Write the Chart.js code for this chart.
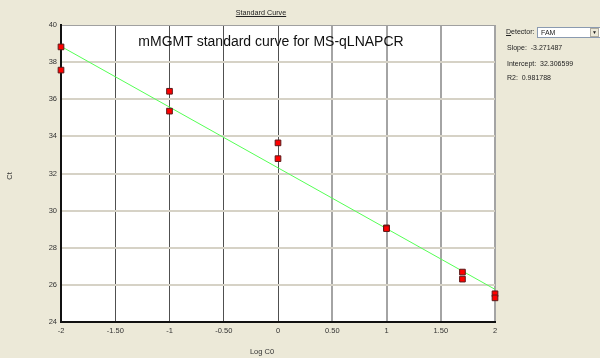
<!DOCTYPE html>
<html>
<head>
<meta charset="utf-8">
<script src="https://cdn.jsdelivr.net/npm/chart.js@4/dist/chart.umd.min.js"></script>
<style>
  html,body{margin:0;padding:0;background:#ECE9D8;}
  #wrap{position:relative;width:600px;height:358px;background:#ECE9D8;overflow:hidden;
        font-family:"Liberation Sans",Arial,sans-serif;font-size:7px;color:#222;}
  #chart{position:absolute;left:0;top:0;}
  .lbl{position:absolute;white-space:nowrap;line-height:9px;}
  #head{left:0;width:522px;top:8px;text-align:center;text-decoration:underline;font-size:7.2px;}
  #det{left:506px;top:27px;}
  #sel{position:absolute;left:537px;top:27px;width:62px;height:9px;background:#fff;
       border:1px solid #8a9ab0;box-sizing:content-box;}
  #sel span{position:absolute;left:3px;top:0px;line-height:9px;}
  #btn{position:absolute;right:1px;top:0px;width:9px;height:9px;background:#ECE9D8;
       border:1px solid #b0aca0;box-sizing:border-box;font-size:5px;line-height:7px;text-align:center;}
</style>
</head>
<body>
<div id="wrap">
  <canvas id="chart" width="600" height="358"></canvas>
  <div class="lbl" id="head">Standard Curve</div>
  <div class="lbl" id="det"><u>D</u>etector:</div>
  <div id="sel"><span>FAM</span><div id="btn">&#9660;</div></div>
  <div class="lbl" style="left:507px;top:43px;">Slope:&nbsp; -3.271487</div>
  <div class="lbl" style="left:507px;top:59px;">Intercept:&nbsp; 32.306599</div>
  <div class="lbl" style="left:507px;top:73px;">R2:&nbsp; 0.981788</div>
</div>
<script>
// ----------------- Data -----------------
const logC0 = [-2, -2, -1, -1, 0, 0, 1, 1, 1.7, 1.7, 2, 2];
const ct    = [38.82, 37.57, 36.43, 35.36, 33.65, 32.8, 29.07, 29.03, 26.69, 26.31, 25.52, 25.3];
const fitX  = [-2, 2];
const fitY  = [38.85, 25.76];
const xTickLabels = ["-2", "-1.50", "-1", "-0.50", "0", "0.50", "1", "1.50", "2"];
const yTickLabels = ["24", "26", "28", "30", "32", "34", "36", "38", "40"];

const chartTitle = "mMGMT standard curve for MS-qLNAPCR";
const xTitle = "Log C0";
const yTitle = "Ct";

Chart.defaults.font.family = '"Liberation Sans", Arial, sans-serif';
Chart.defaults.font.size = 7.5;
Chart.defaults.color = "#333";

// ----------------- Plugin: plot bg + texts -----------------
const decor = {
  id: "decor",
  beforeDraw(chart){
    const {ctx, chartArea:a} = chart;
    ctx.save();
    ctx.fillStyle = "#fff";
    ctx.fillRect(a.left, a.top, a.right - a.left, a.bottom - a.top);
    ctx.restore();
  },
  afterDraw(chart){
    const {ctx} = chart;
    ctx.save();
    ctx.fillStyle = "#111";
    ctx.font = '14px "Liberation Sans", Arial, sans-serif';
    ctx.textAlign = "center";
    ctx.textBaseline = "alphabetic";
    ctx.fillText(chartTitle, 271, 45.5);
    ctx.fillStyle = "#333";
    ctx.font = '7.5px "Liberation Sans", Arial, sans-serif';
    ctx.textBaseline = "middle";
    ctx.fillText(xTitle, 262, 352);
    ctx.translate(10, 176);
    ctx.rotate(-Math.PI/2);
    ctx.fillText(yTitle, 0, 0);
    ctx.restore();
  }
};

const points = logC0.map((x, i) => ({x: x, y: ct[i]}));
const fit = fitX.map((x, i) => ({x: x, y: fitY[i]}));

new Chart(document.getElementById("chart"), {
  type: "scatter",
  data: {
    datasets: [
      {
        type: "line",
        data: fit,
        borderColor: "#55ff55",
        borderWidth: 1,
        pointRadius: 0,
        fill: false,
        order: 1,
        clip: false
      },
      {
        data: points,
        pointStyle: "rect",
        pointRadius: 4,
        backgroundColor: "#ff0000",
        borderColor: "#5a1a1a",
        borderWidth: 1,
        order: 0,
        clip: false
      }
    ]
  },
  options: {
    responsive: false,
    animation: false,
    layout: {padding: {left: 0, top: 25, right: 105, bottom: 0}},
    plugins: {legend: {display: false}, tooltip: {enabled: false}},
    scales: {
      x: {
        type: "linear",
        min: -2, max: 2,
        afterFit(s){ s.height = 36; },
        border: {color: "#111", width: 2},
        grid: {
          drawTicks: false,
          color: c => c.index === 0 ? "rgba(0,0,0,0)" : (c.tick && c.tick.value > 0 ? "#a4a4a4" : "#505050"),
          lineWidth: c => (c.tick && c.tick.value > 0 ? 2 : 1)
        },
        ticks: {stepSize: 0.5, padding: 4, color: "#333",
                callback: (v, i) => xTickLabels[i]}
      },
      y: {
        min: 24, max: 40,
        afterFit(s){ s.width = 61; },
        border: {color: "#111", width: 2},
        grid: {
          drawTicks: false,
          color: c => c.index === 0 ? "rgba(0,0,0,0)" : (c.tick && c.tick.value === 40 ? "#a0a0a0" : "#d6d2c6"),
          lineWidth: c => (c.tick && c.tick.value === 40 ? 1 : 2)
        },
        ticks: {stepSize: 2, padding: 4, color: "#333",
                callback: (v, i) => yTickLabels[i]}
      }
    }
  },
  plugins: [decor]
});
</script>
</body>
</html>
